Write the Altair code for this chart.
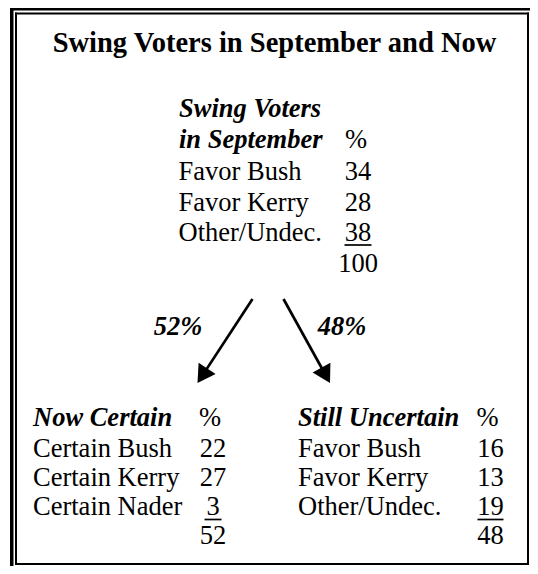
import altair as alt
import pandas as pd
import numpy as np

# ---- content ----
title = "Swing Voters in September and Now"
sept_header = ["Swing Voters", "in September"]
sept_labels = ["Favor Bush", "Favor Kerry", "Other/Undec."]
sept_values = [34, 28, 38]
sept_total = 100
split_labels = ["52%", "48%"]
certain_header = "Now Certain"
certain_labels = ["Certain Bush", "Certain Kerry", "Certain Nader"]
certain_values = [22, 27, 3]
certain_total = 52
uncertain_header = "Still Uncertain"
uncertain_labels = ["Favor Bush", "Favor Kerry", "Other/Undec."]
uncertain_values = [16, 13, 19]
uncertain_total = 48

# ---- layout (picture coordinates) ----
FONT = "Liberation Serif"
BODY = 26.5
W, H = 522, 558
xs = alt.Scale(domain=[8, 8 + W], nice=False, zero=False)
ys = alt.Scale(domain=[8 + H, 8], nice=False, zero=False)

plain_left, plain_center, bi_left, bi_center = [], [], [], []

# top block
top_x, top_col = 178.5, 358
top_rows = [117, 148, 180, 210.5, 240.5, 272]
bi_left.append({"t": sept_header[0], "x": top_x + 0.5, "y": top_rows[0]})
bi_left.append({"t": sept_header[1], "x": top_x + 0.5, "y": top_rows[1]})
plain_center.append({"t": "%", "x": top_col - 2, "y": top_rows[1]})
for i, (l, v) in enumerate(zip(sept_labels, sept_values)):
    plain_left.append({"t": l, "x": top_x, "y": top_rows[2 + i]})
    plain_center.append({"t": str(v), "x": top_col, "y": top_rows[2 + i]})
plain_center.append({"t": str(sept_total), "x": top_col, "y": top_rows[5]})

# bottom blocks
bot_rows = [426, 456.5, 486, 515, 544]
blocks = [
    (certain_header, certain_labels, certain_values, certain_total, 33, 213),
    (uncertain_header, uncertain_labels, uncertain_values, uncertain_total, 298, 490.5),
]
underlines = [{"x": top_col - 13.5, "x2": top_col + 13.5, "y": top_rows[4] + 4.5}]
for hdr, labs, vals, tot, bx, bc in blocks:
    bi_left.append({"t": hdr, "x": bx, "y": bot_rows[0]})
    plain_center.append({"t": "%", "x": bc - 3, "y": bot_rows[0]})
    for i, (l, v) in enumerate(zip(labs, vals)):
        plain_left.append({"t": l, "x": bx, "y": bot_rows[1 + i]})
        plain_center.append({"t": str(v), "x": bc, "y": bot_rows[1 + i]})
    plain_center.append({"t": str(tot), "x": bc, "y": bot_rows[4]})
    half = 8.5 if len(str(vals[-1])) == 1 else 13
    underlines.append({"x": bc - half, "x2": bc + half, "y": bot_rows[3] + 4.5})

bi_center.append({"t": split_labels[0], "x": 178, "y": 335})
bi_center.append({"t": split_labels[1], "x": 342, "y": 335})

# arrows
starts = [(252.5, 299), (283.5, 299)]
tips = [(197.5, 383), (330, 383)]
arrow_lines, heads = [], []
for (sx, sy), (tx, ty) in zip(starts, tips):
    d = np.hypot(tx - sx, ty - sy)
    ux, uy = (tx - sx) / d, (ty - sy) / d
    arrow_lines.append({"x": sx, "y": sy, "x2": tx - ux * 10, "y2": ty - uy * 10})
    ang = np.degrees(np.arctan2(-ux, uy)) % 360
    heads.append({"x": tx, "y": ty, "angle": float(ang)})

# frame (double rule)
R, B = 8 + W, 8 + H
frame = pd.DataFrame([
    {"x": 10, "x2": 13.5, "y": 8, "y2": B},        # outer left
    {"x": 10, "x2": R, "y": 8, "y2": 10.5},        # outer top
    {"x": 15, "x2": 17, "y": 12.5, "y2": B - 1},   # inner left
    {"x": 15, "x2": R - 1, "y": 12.5, "y2": 14.5},  # inner top
    {"x": R - 3, "x2": R - 1, "y": 12.5, "y2": B - 1},  # inner right
    {"x": 15, "x2": R - 1, "y": B - 3, "y2": B - 1},  # inner bottom
])


def txt(rows, align, size=BODY, **style):
    return alt.Chart(pd.DataFrame(rows)).mark_text(
        align=align, baseline="alphabetic", font=FONT, fontSize=size,
        color="black", **style
    ).encode(
        x=alt.X("x:Q", scale=xs, axis=None),
        y=alt.Y("y:Q", scale=ys, axis=None),
        text="t:N",
    )


frame_layer = alt.Chart(frame).mark_rect(color="black").encode(
    x=alt.X("x:Q", scale=xs, axis=None), x2="x2:Q",
    y=alt.Y("y:Q", scale=ys, axis=None), y2="y2:Q",
)
line_layer = alt.Chart(pd.DataFrame(arrow_lines)).mark_rule(
    color="black", strokeWidth=2.7
).encode(
    x=alt.X("x:Q", scale=xs, axis=None), x2="x2:Q",
    y=alt.Y("y:Q", scale=ys, axis=None), y2="y2:Q",
)
head_layer = alt.Chart(pd.DataFrame(heads)).mark_point(
    shape="M0,0 L-0.58,-1 L0.58,-1 Z", filled=True, color="black",
    size=1225, opacity=1, strokeWidth=0
).encode(
    x=alt.X("x:Q", scale=xs, axis=None),
    y=alt.Y("y:Q", scale=ys, axis=None),
    angle=alt.Angle("angle:Q", scale=None),
)
ul_layer = alt.Chart(pd.DataFrame(underlines)).mark_rule(
    color="black", strokeWidth=1.7
).encode(
    x=alt.X("x:Q", scale=xs, axis=None), x2="x2:Q",
    y=alt.Y("y:Q", scale=ys, axis=None),
)

title_layer = txt([{"t": title, "x": 274.5, "y": 51.5}], "center",
                  size=28.5, fontWeight="bold")

chart = alt.layer(
    frame_layer,
    title_layer,
    txt(plain_left, "left"),
    txt(plain_center, "center"),
    txt(bi_left, "left", fontStyle="italic", fontWeight="bold"),
    txt(bi_center, "center", fontStyle="italic", fontWeight="bold"),
    ul_layer,
    line_layer,
    head_layer,
).properties(
    width=W, height=H, padding=0, autosize=alt.AutoSizeParams(type="none")
).configure_view(stroke=None)

chart.save("out.html", embed_options={"renderer": "svg", "actions": False})
